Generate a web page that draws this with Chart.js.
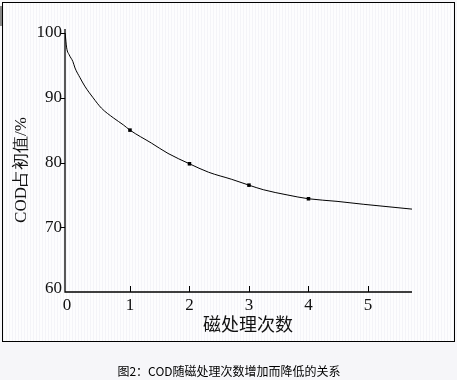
<!DOCTYPE html>
<html><head><meta charset="utf-8">
<script src="https://cdn.jsdelivr.net/npm/chart.js@4"></script>
<style>html,body{margin:0;padding:0;background:#f7f7fa;overflow:hidden;}canvas{display:block;}
#frame{position:absolute;left:2px;top:2px;width:451px;height:338px;border:1px solid #000;pointer-events:none;}</style>
</head><body>
<canvas id="c" width="457" height="380"></canvas>
<div id="frame"></div>
<script>
// curve samples
const curveX = [-0.09, -0.064, -0.02, 0.04, 0.076, 0.16, 0.24, 0.38, 0.52, 0.72, 0.89, 1, 1.36, 1.64, 2, 2.32, 2.71, 3, 3.24, 3.64, 4, 4.48, 4.92, 5.74];
const curveY = [100, 97.7, 96.6, 95.6, 94.6, 93.1, 91.8, 90.0, 88.4, 86.9, 85.8, 85, 83.0, 81.4, 79.8, 78.5, 77.4, 76.5, 75.8, 75.0, 74.4, 74.0, 73.55, 72.8];
// measured points
const pointX = [1, 2, 3, 4];
const pointY = [85, 79.8, 76.5, 74.4];
const xTicks = [0, 1, 2, 3, 4, 5];
const yTicks = [60, 70, 80, 90, 100];
const xTitle = '磁处理次数';
const yTitle = 'COD占初值/%';
const caption = '图2：COD随磁处理次数增加而降低的关系';

const serif = '"Liberation Serif", "DejaVu Serif", serif';
const cjk = '"Noto Sans CJK SC", sans-serif';

const deco = {
  id: 'deco',
  beforeDraw(chart) {
    const ctx = chart.ctx;
    ctx.save();
    ctx.fillStyle = '#f6f6f9';
    ctx.fillRect(0, 0, chart.width, chart.height);
    ctx.fillStyle = '#fdfdfe';
    ctx.fillRect(3, 3, 451, 338);
    ctx.fillStyle = '#f4f4f8';
    for (let x = 3; x < 454; x += 3) { ctx.fillRect(x, 3, 1, 338); }
    ctx.restore();
  },
  afterDraw(chart) {
    const ctx = chart.ctx;
    const xs = chart.scales.x, ys = chart.scales.y;
    const y0 = ys.getPixelForValue(60);
    const x0 = xs.left;
    ctx.save();
    ctx.fillStyle = '#888';
    ctx.fillRect(0, 6, 2, 20);
    // axes
    ctx.strokeStyle = '#000';
    ctx.lineWidth = 1.3;
    ctx.beginPath();
    ctx.moveTo(x0, ys.getPixelForValue(100) - 4);
    ctx.lineTo(x0, y0);
    ctx.lineTo(xs.right, y0);
    ctx.stroke();
    // x ticks inward
    ctx.lineWidth = 1;
    xTicks.forEach(v => {
      if (v === 0) return;
      const px = Math.round(xs.getPixelForValue(v)) + 0.5;
      ctx.beginPath(); ctx.moveTo(px, y0); ctx.lineTo(px, y0 - 6); ctx.stroke();
    });
    // y ticks outward
    yTicks.forEach(v => {
      if (v === 60) return;
      const py = Math.round(ys.getPixelForValue(v)) + 0.5;
      ctx.beginPath(); ctx.moveTo(x0, py); ctx.lineTo(x0 - 5, py); ctx.stroke();
    });
    // tick labels
    ctx.fillStyle = '#111';
    ctx.font = '17px ' + serif;
    ctx.textAlign = 'center'; ctx.textBaseline = 'top';
    xTicks.forEach(v => ctx.fillText(String(v), v === 0 ? x0 + 2 : xs.getPixelForValue(v), y0 + 5));
    ctx.textAlign = 'right'; ctx.textBaseline = 'middle';
    yTicks.forEach(v => ctx.fillText(String(v), x0 - 3, ys.getPixelForValue(v) + (v === 60 ? -3 : 0)));
    // titles
    ctx.font = '18px ' + cjk;
    ctx.textAlign = 'center'; ctx.textBaseline = 'middle';
    ctx.fillText(xTitle, 248, 324);
    ctx.save();
    ctx.translate(22, 170);
    ctx.rotate(-Math.PI / 2);
    ctx.font = '17px ' + serif;
    ctx.fillText(yTitle, 0, 0);
    ctx.restore();
    // caption
    ctx.font = '12px ' + cjk;
    ctx.fillStyle = '#000';
    ctx.fillText(caption, 229, 371);
    ctx.restore();
  }
};

new Chart(document.getElementById('c'), {
  type: 'scatter',
  data: {
    datasets: [
      {
        data: curveX.map((x, i) => ({x, y: curveY[i]})),
        showLine: true, borderColor: '#000', borderWidth: 1,
        pointRadius: 0, cubicInterpolationMode: 'monotone', fill: false
      },
      {
        data: pointX.map((x, i) => ({x, y: pointY[i]})),
        showLine: false, pointStyle: 'rect', pointRadius: 2.5,
        backgroundColor: '#000', borderColor: '#000', borderWidth: 0
      }
    ]
  },
  options: {
    responsive: false, animation: false, devicePixelRatio: 1,
    layout: { padding: { left: 65, right: 45, top: 33, bottom: 88 } },
    plugins: { legend: { display: false }, tooltip: { enabled: false } },
    scales: {
      x: { type: 'linear', min: -0.092, max: 5.74, display: false },
      y: { type: 'linear', min: 60, max: 100, display: false }
    }
  },
  plugins: [deco]
});
</script>
</body></html>
